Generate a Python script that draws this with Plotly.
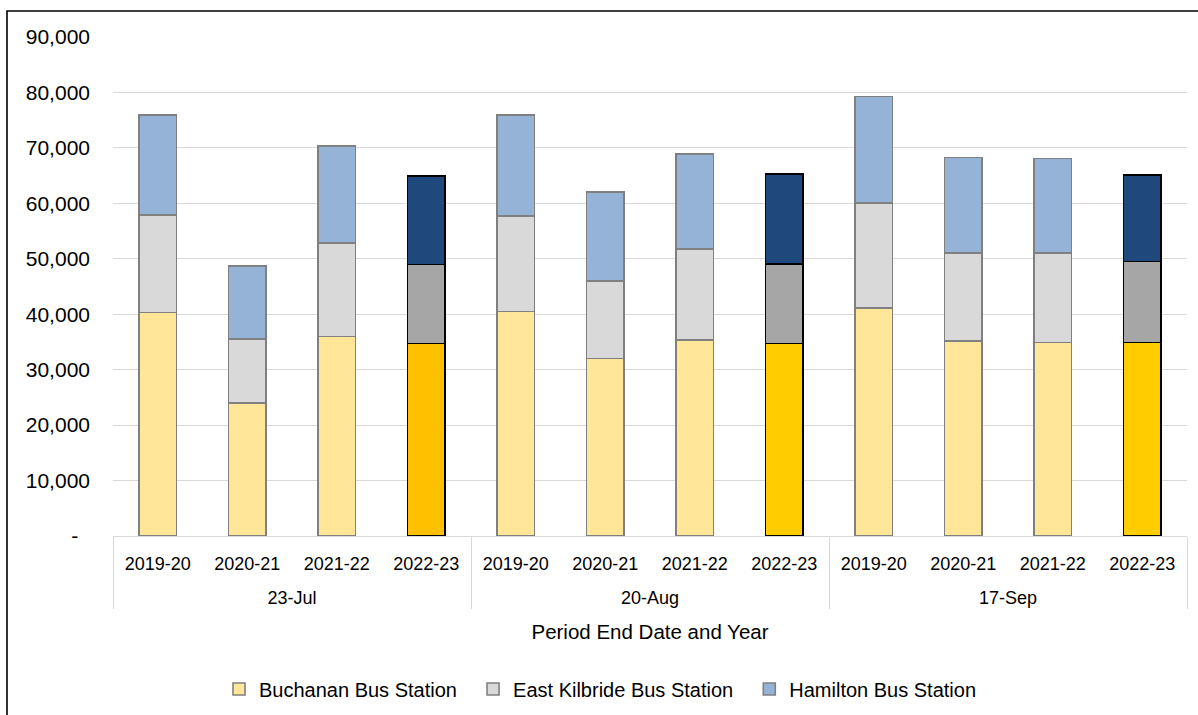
import plotly.graph_objects as go

# Period end dates (outer category) and financial years (inner category)
periods = ["23-Jul", "20-Aug", "17-Sep"]
years = ["2019-20", "2020-21", "2021-22", "2022-23"]

# Passenger counts per station, ordered period by period, year by year
buchanan = [40300, 24000, 36000, 34700,
            40500, 32050, 35400, 34700,
            41100, 35200, 34900, 34900]
east_kilbride = [17550, 11500, 16900, 14250,
                 17200, 13900, 16400, 14400,
                 18950, 15850, 16100, 14600]
hamilton = [18050, 13200, 17450, 15950,
            18200, 16100, 17050, 16200,
            19250, 17250, 17100, 15600]

x_outer = [p for p in periods for _ in years]
x_inner = [y for _ in periods for y in years]
# an empty second line under each year label opens up the gap to the period row
x_inner_lbl = [y + "<br>\u00a0" for y in x_inner]

# Current year is highlighted with stronger fills and black outlines
current = "2022-23"
is_cur = [y == current for y in x_inner]

buch_cur = {"23-Jul": "#FFC000", "20-Aug": "#FFCC00", "17-Sep": "#FFCC00"}
buch_fill = [buch_cur[p] if c else "#FFE699" for p, c in zip(x_outer, is_cur)]
ek_fill = ["#A6A6A6" if c else "#D9D9D9" for c in is_cur]
ham_fill = ["#1F497D" if c else "#95B3D7" for c in is_cur]
edge = ["#000000" if c else "#808080" for c in is_cur]

fig = go.Figure()
for name, vals, fill in [
    ("Buchanan Bus Station", buchanan, buch_fill),
    ("East Kilbride Bus Station", east_kilbride, ek_fill),
    ("Hamilton Bus Station", hamilton, ham_fill),
]:
    fig.add_trace(go.Bar(
        name=name + "\u00a0\u00a0",
        x=[x_outer, x_inner_lbl],
        y=vals,
        marker=dict(color=fill, line=dict(color=edge, width=1.6)),
    ))

font_family = "Liberation Sans, Arial, sans-serif"

y_ticks = list(range(0, 90001, 10000))
y_text = ["-\u00a0\u00a0"] + [f"{v:,}" for v in y_ticks[1:]]

fig.update_layout(
    barmode="stack",
    bargap=0.585,
    width=1198,
    height=715,
    margin=dict(l=113, r=11, t=37, b=179, autoexpand=False),
    paper_bgcolor="white",
    plot_bgcolor="white",
    font=dict(family=font_family, size=18, color="#000000"),
    legend=dict(
        orientation="h",
        x=0.0987, xanchor="left",
        y=-0.3066, yanchor="middle",
        font=dict(size=20),
        traceorder="normal",
    ),
    xaxis=dict(
        type="multicategory",
        automargin=False,
        showline=True,
        linecolor="#D9D9D9",
        linewidth=1,
        showdividers=True,
        dividercolor="#D9D9D9",
        dividerwidth=1,
        tickfont=dict(size=18),
        ticklabelstandoff=11,
        title=dict(text="Period End Date and Year", font=dict(size=20.5), standoff=17),
        showgrid=False,
    ),
    yaxis=dict(
        automargin=False,
        range=[0, 90000],
        tickvals=y_ticks,
        ticktext=y_text,
        tickfont=dict(size=21),
        ticklabelstandoff=22,
        showgrid=True,
        gridcolor="#D9D9D9",
        gridwidth=1,
        zeroline=False,
        showline=False,
    ),
    shapes=[dict(
        type="rect", xref="paper", yref="paper",
        x0=-0.0987, x1=1.02, y0=-0.5, y1=1.052,
        line=dict(color="#000000", width=1.6),
        fillcolor="rgba(0,0,0,0)",
        layer="above",
    )],
)

fig.write_html("out.html")
